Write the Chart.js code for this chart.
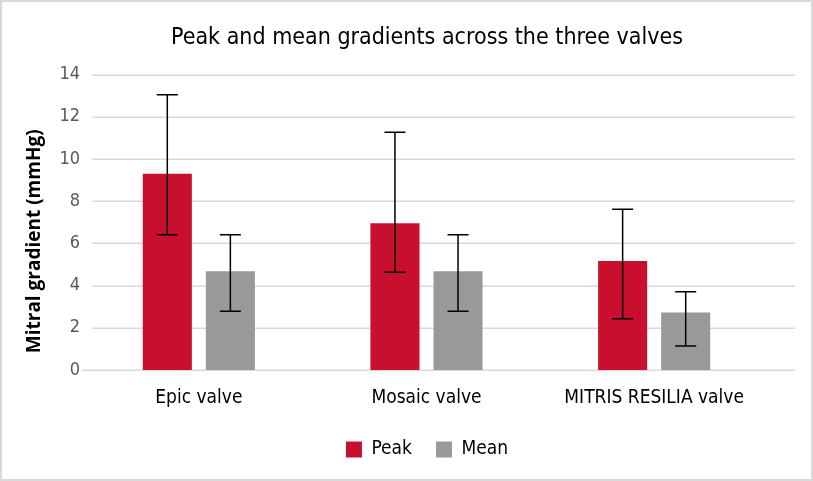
<!DOCTYPE html>
<html>
<head>
<meta charset="utf-8">
<script src="https://cdn.jsdelivr.net/npm/chart.js@4.4.1/dist/chart.umd.min.js"></script>
<style>
  html, body { margin: 0; padding: 0; background: #ffffff; }
  #wrap { width: 813px; height: 481px; }
</style>
</head>
<body>
<div id="wrap"><canvas id="c" width="813" height="481"></canvas></div>
<script>
// ---- data ----
const categories = ["Epic valve", "Mosaic valve", "MITRIS RESILIA valve"];
const peakValues = [9.3, 6.95, 5.16];
const meanValues = [4.68, 4.68, 2.73];
const peakErrUpper = [13.05, 11.27, 7.62];
const peakErrLower = [6.41, 4.63, 2.43];
const meanErrUpper = [6.41, 6.41, 3.71];
const meanErrLower = [2.78, 2.78, 1.14];
const yTicks = [0, 2, 4, 6, 8, 10, 12, 14];
const yAxisTitle = 'Mitral gradient (mmHg)';

const errorBars = [
  { upper: peakErrUpper, lower: peakErrLower },
  { upper: meanErrUpper, lower: meanErrLower }
];

const condFont = '"Liberation Sans Narrow", "DejaVu Sans Condensed", sans-serif';

const framePlugin = {
  id: 'frame',
  beforeDraw(chart) {
    const ctx = chart.ctx;
    ctx.save();
    ctx.fillStyle = '#ffffff';
    ctx.fillRect(0, 0, chart.width, chart.height);
    ctx.strokeStyle = '#d9d9d9';
    ctx.lineWidth = 2;
    ctx.strokeRect(1, 1, chart.width - 2, chart.height - 2);
    ctx.restore();
  }
};

const gridPlugin = {
  id: 'hgrid',
  beforeDatasetsDraw(chart) {
    const ctx = chart.ctx, y = chart.scales.y, a = chart.chartArea;
    ctx.save();
    ctx.strokeStyle = '#d9d9d9';
    ctx.lineWidth = 1.5;
    y.ticks.forEach(t => {
      const py = Math.round(y.getPixelForValue(t.value)) + 0.25;
      ctx.beginPath();
      ctx.moveTo(t.value === 0 ? a.left - 3 : a.left + 7, py);
      ctx.lineTo(a.right + 27, py);
      ctx.stroke();
    });
    ctx.restore();
  }
};

const yTitlePlugin = {
  id: 'ytitle',
  afterDraw(chart) {
    const ctx = chart.ctx, a = chart.chartArea;
    ctx.save();
    ctx.translate(35, (a.top + a.bottom) / 2 + 19);
    ctx.rotate(-Math.PI / 2);
    ctx.fillStyle = '#000000';
    ctx.font = 'bold 19px "Open Sans", "Noto Sans", sans-serif';
    ctx.textAlign = 'center';
    ctx.textBaseline = 'middle';
    ctx.fillText(yAxisTitle, 0, 0);
    ctx.restore();
  }
};

const errorPlugin = {
  id: 'errbars',
  afterDatasetsDraw(chart) {
    const ctx = chart.ctx, y = chart.scales.y;
    ctx.save();
    ctx.strokeStyle = '#000000';
    ctx.lineWidth = 1.5;
    errorBars.forEach((eb, di) => {
      const meta = chart.getDatasetMeta(di);
      meta.data.forEach((bar, j) => {
        const x = bar.x;
        const yt = y.getPixelForValue(eb.upper[j]);
        const yb = y.getPixelForValue(eb.lower[j]);
        const cap = 10.5;
        ctx.beginPath();
        ctx.moveTo(x, yt); ctx.lineTo(x, yb);
        ctx.moveTo(x - cap, yt); ctx.lineTo(x + cap, yt);
        ctx.moveTo(x - cap, yb); ctx.lineTo(x + cap, yb);
        ctx.stroke();
      });
    });
    ctx.restore();
  }
};

new Chart(document.getElementById('c'), {
  type: 'bar',
  data: {
    labels: categories,
    datasets: [
      { label: 'Peak', data: peakValues, backgroundColor: '#c8102e', categoryPercentage: 0.554, barPercentage: 0.778 },
      { label: 'Mean', data: meanValues, backgroundColor: '#999999', categoryPercentage: 0.554, barPercentage: 0.778 }
    ]
  },
  options: {
    responsive: false,
    animation: false,
    devicePixelRatio: 1,
    layout: { padding: { left: 41, right: 0, top: 10, bottom: 12 } },
    plugins: {
      title: {
        display: true,
        text: 'Peak and mean gradients across the three valves',
        color: '#000000',
        font: { family: condFont, size: 23, weight: 'normal' },
        padding: { top: 14, bottom: 23 }
      },
      legend: {
        position: 'bottom',
        labels: {
          color: '#000000',
          font: { family: condFont, size: 19 },
          boxWidth: 16, boxHeight: 16,
          padding: 24
        }
      },
      tooltip: { enabled: false }
    },
    scales: {
      x: {
        grid: { display: false, drawTicks: false },
        border: { display: false },
        ticks: { color: '#000000', font: { family: condFont, size: 19 }, padding: 17, maxRotation: 0 },
        afterFit(s) { s.height = 46; }
      },
      y: {
        min: 0, max: 14,
        afterBuildTicks(s) { s.ticks = yTicks.map(v => ({ value: v })); },
        grid: { display: false, drawTicks: false },
        border: { display: false },
        ticks: { color: '#595959', font: { family: condFont, size: 18 }, padding: 5 },
        afterFit(s) { s.width = 44; }
      },
      yRight: {
        position: 'right',
        display: true,
        grid: { display: false, drawTicks: false },
        border: { display: false },
        ticks: { display: false },
        afterFit(s) { s.width = 45; }
      }
    }
  },
  plugins: [framePlugin, gridPlugin, errorPlugin, yTitlePlugin]
});
</script>
</body>
</html>
